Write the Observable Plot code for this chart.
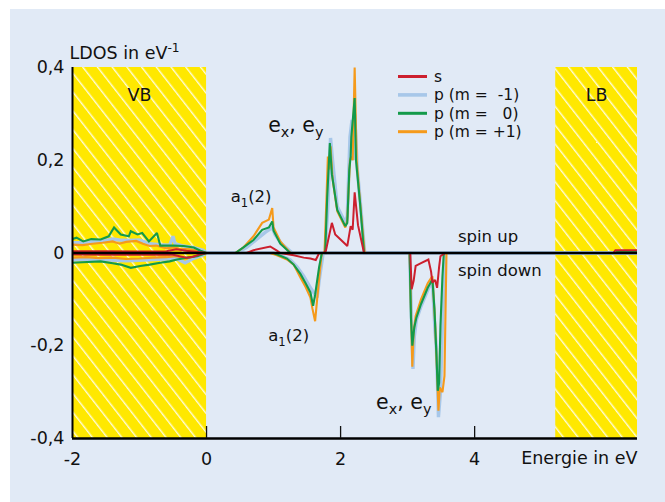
<!DOCTYPE html>
<html><head><meta charset="utf-8">
<script src="https://cdn.jsdelivr.net/npm/d3@7"></script>
<script src="https://cdn.jsdelivr.net/npm/@observablehq/plot@0.6"></script>
<style>
body{margin:0;background:#fff;}
#wrap{position:relative;width:665px;height:502px;overflow:hidden;font-family:"DejaVu Sans",sans-serif;}
#panel{position:absolute;left:10px;top:9px;right:0;bottom:0;background:#e1eaf6;}
#wrap svg{position:absolute;left:0;top:0;}
</style></head><body><div id="wrap"><div id="panel"></div></div>
<script>
// ---------- data ----------
const seriesNames = ["s", "p (m =  -1)", "p (m =   0)", "p (m = +1)"];
const seriesColors = ["#cc1f2e", "#a7c7e9", "#139a4a", "#f59a1b"];
const xTicks = [-2, 0, 2, 4];
const yTicks = [-0.4, -0.2, 0, 0.2, 0.4];
const bands = [{name: "VB", from: -2, to: 0}, {name: "LB", from: 5.21, to: 6.43}];

// s, spin up / down
const E_s_up = [-2, -1.5, -1.0, -0.6, -0.45, -0.3, 0, 0.6, 0.7, 0.95, 1.05, 1.1, 1.75, 1.78, 1.87, 1.92, 2.05, 2.10, 2.15, 2.18, 2.21, 2.26, 2.35, 6.07, 6.10, 6.43];
const s_up   = [0.004, 0.004, 0.003, 0.004, 0.008, 0.005, 0, 0, 0.006, 0.014, 0.005, 0, 0, 0.005, 0.065, 0.04, 0.022, 0.015, 0.058, 0.05, 0.131, 0.06, 0, 0, 0.006, 0.006];
const E_s_dn = [-2, -1.5, -1.0, -0.5, -0.3, -0.2, -0.1, 0, 1.1, 1.3, 1.45, 1.55, 1.63, 1.68, 3.04, 3.06, 3.09, 3.12, 3.2, 3.31, 3.35, 3.37, 3.41, 3.44, 3.47, 3.49, 3.56, 6.43];
const s_dn   = [-0.003, -0.004, -0.003, -0.004, -0.01, -0.008, -0.003, 0, 0, -0.005, -0.01, -0.012, -0.015, 0, 0, -0.078, -0.06, -0.028, -0.022, -0.014, -0.04, -0.064, -0.058, -0.075, -0.03, -0.007, 0, 0];

// p (m = -1)
const E_pm1_up = [-2, -1.85, -1.7, -1.55, -1.4, -1.3, -1.15, -1.0, -0.85, -0.7, -0.55, -0.5, -0.47, -0.35, -0.2, -0.05, 0, 0.45, 0.6, 0.75, 0.88, 0.98, 1.02, 1.12, 1.28, 1.77, 1.81, 1.85, 1.88, 1.95, 2.07, 2.10, 2.14, 2.17, 2.19, 2.21, 2.25, 2.30, 2.36, 6.43];
const pm1_up   = [0.022, 0.022, 0.025, 0.026, 0.03, 0.028, 0.027, 0.028, 0.02, 0.018, 0.017, 0.036, 0.02, 0.015, 0.012, 0.006, 0, 0, 0.012, 0.03, 0.045, 0.055, 0.04, 0.02, 0, 0, 0.1, 0.248, 0.2, 0.1, 0.065, 0.08, 0.25, 0.287, 0.2, 0.3, 0.18, 0.1, 0, 0];
const E_pm1_dn = [-2, -1.8, -1.6, -1.4, -1.2, -1.0, -0.8, -0.6, -0.45, -0.32, -0.2, -0.05, 0, 1.0, 1.1, 1.25, 1.35, 1.45, 1.55, 1.62, 1.65, 1.68, 1.72, 1.74, 3.03, 3.05, 3.08, 3.10, 3.13, 3.2, 3.3, 3.37, 3.41, 3.43, 3.45, 3.46, 3.49, 3.52, 3.56, 6.43];
const pm1_dn   = [-0.015, -0.014, -0.013, -0.016, -0.017, -0.016, -0.014, -0.013, -0.012, -0.021, -0.012, -0.004, 0, 0, -0.005, -0.015, -0.03, -0.05, -0.075, -0.09, -0.096, -0.06, -0.02, 0, 0, -0.1, -0.25, -0.18, -0.145, -0.115, -0.08, -0.06, -0.17, -0.207, -0.3, -0.354, -0.3, -0.15, 0, 0];

// p (m = 0)
const E_p0_up = [-2, -1.94, -1.84, -1.72, -1.58, -1.46, -1.38, -1.28, -1.16, -1.13, -1.03, -0.96, -0.86, -0.74, -0.69, -0.49, -0.34, -0.19, -0.09, 0, 0.43, 0.55, 0.70, 0.83, 0.93, 0.98, 1.0, 1.1, 1.25, 1.77, 1.80, 1.84, 1.87, 1.95, 2.07, 2.10, 2.13, 2.15, 2.16, 2.21, 2.23, 2.29, 2.35, 6.10, 6.13, 6.43];
const p0_up   = [0.03, 0.033, 0.025, 0.03, 0.029, 0.036, 0.055, 0.04, 0.036, 0.047, 0.04, 0.043, 0.025, 0.043, 0.016, 0.016, 0.015, 0.012, 0.005, 0, 0, 0.012, 0.028, 0.05, 0.055, 0.068, 0.048, 0.02, 0, 0, 0.12, 0.237, 0.17, 0.093, 0.058, 0.065, 0.18, 0.208, 0.25, 0.334, 0.2, 0.108, 0, 0, 0.003, 0.003];
const E_p0_dn = [-2, -1.85, -1.58, -1.4, -1.28, -1.13, -0.99, -0.85, -0.69, -0.55, -0.44, -0.29, -0.14, 0, 1.0, 1.1, 1.2, 1.3, 1.4, 1.48, 1.55, 1.59, 1.62, 1.68, 1.72, 3.03, 3.05, 3.07, 3.10, 3.13, 3.2, 3.3, 3.37, 3.40, 3.43, 3.45, 3.47, 3.49, 3.52, 3.54, 6.43];
const p0_dn   = [-0.021, -0.02, -0.018, -0.022, -0.025, -0.032, -0.028, -0.025, -0.021, -0.018, -0.014, -0.01, -0.007, 0, 0, -0.006, -0.012, -0.025, -0.045, -0.066, -0.085, -0.114, -0.09, -0.03, 0, 0, -0.14, -0.2, -0.16, -0.14, -0.11, -0.075, -0.057, -0.12, -0.218, -0.297, -0.28, -0.157, -0.05, 0, 0];

// p (m = +1)
const E_pp1_up = [-2, -1.85, -1.7, -1.55, -1.4, -1.3, -1.2, -1.05, -0.95, -0.85, -0.75, -0.6, -0.5, -0.4, -0.25, -0.1, 0, 0.43, 0.55, 0.70, 0.83, 0.93, 0.98, 1.0, 1.1, 1.25, 1.76, 1.79, 1.81, 1.83, 1.85, 1.88, 1.95, 2.07, 2.10, 2.14, 2.16, 2.18, 2.21, 2.24, 2.29, 2.36, 6.43];
const pp1_up   = [0.018, 0.017, 0.02, 0.022, 0.025, 0.02, 0.024, 0.026, 0.02, 0.015, 0.016, 0.01, 0.012, 0.009, 0.008, 0.004, 0, 0, 0.012, 0.036, 0.065, 0.072, 0.097, 0.055, 0.025, 0, 0, 0.12, 0.208, 0.18, 0.23, 0.16, 0.09, 0.055, 0.07, 0.2, 0.208, 0.2, 0.40, 0.2, 0.11, 0, 0];
const E_pp1_dn = [-2, -1.8, -1.6, -1.4, -1.2, -1.0, -0.8, -0.6, -0.45, -0.3, -0.15, 0, 0.95, 1.05, 1.2, 1.3, 1.4, 1.48, 1.55, 1.58, 1.62, 1.65, 1.69, 1.72, 3.03, 3.05, 3.07, 3.09, 3.12, 3.2, 3.3, 3.37, 3.41, 3.44, 3.46, 3.48, 3.52, 3.55, 3.58, 6.43];
const pp1_dn   = [-0.01, -0.009, -0.011, -0.01, -0.013, -0.012, -0.01, -0.009, -0.007, -0.012, -0.006, 0, 0, -0.005, -0.014, -0.025, -0.053, -0.074, -0.096, -0.12, -0.147, -0.1, -0.04, 0, 0, -0.12, -0.245, -0.17, -0.136, -0.1, -0.065, -0.05, -0.15, -0.26, -0.34, -0.29, -0.3, -0.265, 0, 0];

// annotations (energy, LDOS, text)
const annotations = [
  {E: 0.92, v: 0.276, text: "e_{x}, e_{y}", size: 20.5},
  {E: 0.36, v: 0.122, text: "a_{1}(2)", size: 16.5},
  {E: 0.92, v: -0.178, text: "a_{1}(2)", size: 16.5},
  {E: 2.53, v: -0.322, text: "e_{x}, e_{y}", size: 20.5},
  {E: 3.75, v: 0.036, text: "spin up", size: 16.5},
  {E: 3.75, v: -0.039, text: "spin down", size: 16.5}
];

// ---------- build rows ----------
const curves = [
  [0, "up", E_s_up, s_up], [0, "dn", E_s_dn, s_dn],
  [1, "up", E_pm1_up, pm1_up], [1, "dn", E_pm1_dn, pm1_dn],
  [2, "up", E_p0_up, p0_up], [2, "dn", E_p0_dn, p0_dn],
  [3, "up", E_pp1_up, pp1_up], [3, "dn", E_pp1_dn, pp1_dn]
];
function rowsFor(k) {
  const out = [];
  for (const [s, spin, E, V] of curves) if (s === k)
    E.forEach((e, i) => out.push({E: e, v: V[i], key: spin}));
  return out;
}
const drawOrder = [1, 3, 2, 0];
const widths = {0: 2, 1: 3.4, 2: 2.1, 3: 2.1};

const fmtY = d => d === 0 ? "0" : String(d).replace(".", ",");
const FONT = "DejaVu Sans, sans-serif";

const plot = Plot.plot({
  width: 665, height: 502,
  marginLeft: 72, marginRight: 28, marginTop: 67, marginBottom: 64,
  x: {domain: [-2, 6.43]},
  y: {domain: [-0.4, 0.4]},
  style: {background: "transparent", fontFamily: FONT, color: "#111"},
  marks: [
    Plot.rect(bands, {x1: "from", x2: "to", y1: -0.4, y2: 0.4, fill: "url(#hatch)"}),
    ...drawOrder.map(k => Plot.line(rowsFor(k), {x: "E", y: "v", z: "key", stroke: seriesColors[k], strokeWidth: widths[k], strokeLinejoin: "miter", strokeMiterlimit: 2, clip: true})),
    Plot.ruleY([0], {stroke: "#000", strokeWidth: 2.6}),
    Plot.ruleX([-2], {y1: -0.4, y2: 0.4, stroke: "#000", strokeWidth: 2}),
    Plot.ruleY([-0.4], {stroke: "#000", strokeWidth: 2.4}),
    Plot.axisY({ticks: yTicks, tickSize: 0, tickPadding: 8, tickFormat: fmtY, label: null, fontSize: 17.5}),
    Plot.axisX({ticks: xTicks.slice(1), tickSize: 12, dy: -12, tickFormat: () => "", label: null, strokeWidth: 1.3}),
    Plot.axisX({ticks: xTicks, tickSize: 0, tickPadding: 14, tickFormat: d => String(d), label: null, fontSize: 17.5}),
    Plot.text(["Energie in eV"], {frameAnchor: "bottom-right", dy: 25, textAnchor: "end", fontSize: 17.5}),
    Plot.text(["LDOS in eV^{-1}"], {frameAnchor: "top-left", dx: -3, dy: -21, textAnchor: "start", fontSize: 17.5}),
    Plot.text(bands, {x: d => (d.from + d.to) / 2, frameAnchor: "top", dy: 21, text: "name", fontSize: 17.5}),
    ...annotations.map(a => Plot.text([a], {x: "E", y: "v", text: "text", textAnchor: "start", fontSize: a.size}))
  ]
});

// hatch pattern
const svgNS = "http://www.w3.org/2000/svg";
const svg = d3.select(plot);
const defs = svg.insert("defs", ":first-child");
const P = 11.6;
const pat = defs.append("pattern").attr("id", "hatch").attr("patternUnits", "userSpaceOnUse")
  .attr("width", P).attr("height", P).attr("patternTransform", "rotate(-38)");
pat.append("rect").attr("width", P).attr("height", P).attr("fill", "#ffe800");
pat.append("rect").attr("x", 0).attr("y", 0).attr("width", 1.4).attr("height", P).attr("fill", "#ffffff").attr("fill-opacity", 0.85);

// sub/superscripts
svg.selectAll("text").each(function() {
  const s = this.textContent;
  if (!/[_^]\{/.test(s)) return;
  const parts = s.split(/([_^]\{[^}]*\})/);
  this.textContent = "";
  let shift = 0;
  for (const p of parts) {
    if (!p) continue;
    const m = p.match(/^([_^])\{([^}]*)\}$/);
    const t = document.createElementNS(svgNS, "tspan");
    if (m) {
      const d = m[1] === "_" ? 5 : -7;
      t.setAttribute("dy", d - shift); shift = d;
      t.setAttribute("font-size", "70%");
      t.textContent = m[2];
    } else {
      if (shift) { t.setAttribute("dy", -shift); shift = 0; }
      t.textContent = p;
    }
    this.appendChild(t);
  }
});

// legend
const lg = svg.append("g").attr("font-size", 15.5).attr("font-family", FONT).attr("text-anchor", "start");
seriesNames.forEach((n, i) => {
  const y = 76.5 + i * 18.4;
  lg.append("line").attr("x1", 398).attr("x2", 427).attr("y1", y).attr("y2", y)
    .attr("stroke", seriesColors[i]).attr("stroke-width", i === 1 ? 3.6 : 3);
  lg.append("text").attr("x", 434).attr("y", y).attr("dy", "0.34em").attr("text-anchor", "start")
    .style("white-space", "pre").attr("fill", "#111").text(n);
});

document.getElementById("wrap").appendChild(plot);
</script></body></html>
